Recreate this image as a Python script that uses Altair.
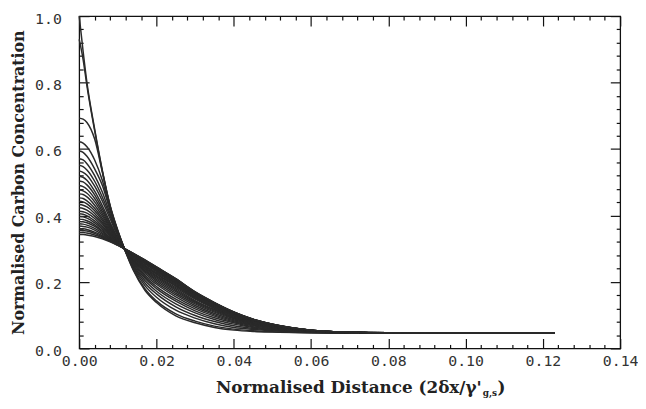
import altair as alt
import pandas as pd

# x positions of the sampled points (normalised distance)
X_HEAD = [0.0, 0.001, 0.002, 0.004, 0.006, 0.008, 0.010, 0.0117]
X_TAIL = [0.014, 0.017, 0.020, 0.025, 0.030, 0.035, 0.040, 0.045, 0.050, 0.060, 0.070, 0.080, 0.123]

# normalised carbon concentration of each profile, near the surface
HEAD = [
    [1.000, 0.895, 0.800, 0.660, 0.535, 0.430, 0.355, 0.300],
    [0.930, 0.870, 0.790, 0.655, 0.532, 0.428, 0.353, 0.300],
    [0.693, 0.690, 0.680, 0.630, 0.530, 0.427, 0.352, 0.300],
    [0.622, 0.618, 0.607, 0.567, 0.505, 0.418, 0.350, 0.300],
    [0.594, 0.590, 0.578, 0.540, 0.490, 0.415, 0.347, 0.300],
    [0.571, 0.567, 0.556, 0.520, 0.470, 0.405, 0.344, 0.300],
    [0.551, 0.547, 0.537, 0.503, 0.455, 0.398, 0.341, 0.300],
    [0.534, 0.530, 0.521, 0.488, 0.443, 0.390, 0.338, 0.300],
    [0.518, 0.515, 0.506, 0.473, 0.429, 0.379, 0.332, 0.300],
    [0.504, 0.501, 0.492, 0.462, 0.420, 0.374, 0.330, 0.300],
    [0.490, 0.487, 0.479, 0.451, 0.412, 0.369, 0.328, 0.300],
    [0.477, 0.474, 0.467, 0.441, 0.405, 0.364, 0.326, 0.300],
    [0.465, 0.463, 0.456, 0.431, 0.398, 0.360, 0.325, 0.300],
    [0.453, 0.451, 0.444, 0.422, 0.391, 0.356, 0.323, 0.300],
    [0.443, 0.441, 0.435, 0.414, 0.385, 0.352, 0.322, 0.300],
    [0.433, 0.431, 0.426, 0.406, 0.379, 0.349, 0.320, 0.300],
    [0.423, 0.421, 0.416, 0.398, 0.374, 0.346, 0.319, 0.300],
    [0.413, 0.411, 0.407, 0.391, 0.368, 0.343, 0.318, 0.300],
    [0.405, 0.404, 0.399, 0.384, 0.363, 0.340, 0.317, 0.300],
    [0.397, 0.396, 0.392, 0.378, 0.359, 0.337, 0.316, 0.300],
    [0.389, 0.388, 0.384, 0.372, 0.354, 0.334, 0.315, 0.300],
    [0.382, 0.381, 0.378, 0.367, 0.351, 0.332, 0.314, 0.300],
    [0.375, 0.374, 0.371, 0.361, 0.347, 0.330, 0.313, 0.300],
    [0.368, 0.367, 0.365, 0.356, 0.343, 0.328, 0.312, 0.300],
    [0.361, 0.360, 0.358, 0.350, 0.339, 0.326, 0.312, 0.300],
    [0.355, 0.354, 0.353, 0.346, 0.336, 0.324, 0.311, 0.300],
    [0.349, 0.349, 0.347, 0.341, 0.333, 0.322, 0.311, 0.300],
    [0.343, 0.343, 0.341, 0.337, 0.330, 0.321, 0.310, 0.300],
]

# the same profiles further into the material
TAIL = [
    [0.235, 0.175, 0.138, 0.098, 0.077, 0.063, 0.055, 0.051, 0.049, 0.047, 0.046, 0.046, 0.046],
    [0.238, 0.180, 0.143, 0.104, 0.082, 0.067, 0.058, 0.053, 0.050, 0.047, 0.046, 0.046, 0.046],
    [0.243, 0.189, 0.154, 0.115, 0.091, 0.074, 0.063, 0.057, 0.053, 0.048, 0.046, 0.046, 0.046],
    [0.247, 0.197, 0.164, 0.125, 0.099, 0.081, 0.068, 0.060, 0.055, 0.049, 0.047, 0.046, 0.046],
    [0.251, 0.204, 0.172, 0.134, 0.107, 0.087, 0.073, 0.063, 0.057, 0.050, 0.047, 0.046, 0.046],
    [0.255, 0.211, 0.180, 0.142, 0.113, 0.092, 0.077, 0.065, 0.058, 0.050, 0.047, 0.046, 0.046],
    [0.258, 0.216, 0.186, 0.148, 0.119, 0.097, 0.080, 0.068, 0.060, 0.051, 0.047, 0.046, 0.046],
    [0.261, 0.221, 0.193, 0.155, 0.124, 0.101, 0.083, 0.070, 0.061, 0.051, 0.048, 0.047, 0.046],
    [0.264, 0.226, 0.198, 0.161, 0.129, 0.105, 0.086, 0.072, 0.062, 0.052, 0.048, 0.047, 0.046],
    [0.266, 0.231, 0.203, 0.166, 0.134, 0.109, 0.089, 0.074, 0.064, 0.052, 0.048, 0.047, 0.046],
    [0.268, 0.234, 0.208, 0.171, 0.138, 0.112, 0.091, 0.075, 0.065, 0.052, 0.048, 0.047, 0.046],
    [0.270, 0.238, 0.212, 0.175, 0.141, 0.115, 0.093, 0.077, 0.066, 0.053, 0.048, 0.047, 0.046],
    [0.272, 0.241, 0.216, 0.179, 0.144, 0.117, 0.095, 0.078, 0.066, 0.053, 0.048, 0.047, 0.046],
    [0.274, 0.244, 0.219, 0.183, 0.148, 0.120, 0.097, 0.079, 0.067, 0.053, 0.048, 0.047, 0.046],
    [0.275, 0.247, 0.223, 0.187, 0.151, 0.122, 0.099, 0.080, 0.068, 0.053, 0.048, 0.047, 0.046],
    [0.277, 0.249, 0.225, 0.189, 0.153, 0.124, 0.100, 0.081, 0.069, 0.054, 0.048, 0.047, 0.046],
    [0.278, 0.251, 0.228, 0.192, 0.155, 0.126, 0.101, 0.082, 0.069, 0.054, 0.049, 0.047, 0.046],
    [0.279, 0.254, 0.231, 0.195, 0.157, 0.128, 0.103, 0.083, 0.070, 0.054, 0.049, 0.047, 0.046],
    [0.280, 0.256, 0.233, 0.197, 0.159, 0.129, 0.104, 0.084, 0.070, 0.054, 0.049, 0.047, 0.046],
    [0.281, 0.257, 0.235, 0.199, 0.161, 0.131, 0.105, 0.085, 0.071, 0.054, 0.049, 0.047, 0.046],
    [0.282, 0.259, 0.237, 0.202, 0.163, 0.132, 0.106, 0.085, 0.071, 0.054, 0.049, 0.047, 0.046],
    [0.283, 0.261, 0.239, 0.203, 0.164, 0.134, 0.107, 0.086, 0.072, 0.055, 0.049, 0.047, 0.046],
    [0.284, 0.262, 0.240, 0.205, 0.166, 0.135, 0.108, 0.086, 0.072, 0.055, 0.049, 0.047, 0.046],
    [0.284, 0.263, 0.242, 0.206, 0.167, 0.136, 0.108, 0.087, 0.072, 0.055, 0.049, 0.047, 0.046],
    [0.285, 0.264, 0.243, 0.208, 0.168, 0.136, 0.109, 0.087, 0.073, 0.055, 0.049, 0.047, 0.046],
    [0.285, 0.265, 0.244, 0.209, 0.169, 0.137, 0.109, 0.088, 0.073, 0.055, 0.049, 0.047, 0.046],
    [0.286, 0.266, 0.245, 0.209, 0.170, 0.138, 0.110, 0.088, 0.073, 0.055, 0.049, 0.047, 0.046],
    [0.286, 0.266, 0.245, 0.210, 0.170, 0.138, 0.110, 0.088, 0.073, 0.055, 0.049, 0.047, 0.046],
]

X_MAJOR = [0.0, 0.02, 0.04, 0.06, 0.08, 0.10, 0.12, 0.14]
X_MINOR = [round(i * 0.004, 3) for i in range(36) if i % 5]
Y_MAJOR = [0.0, 0.2, 0.4, 0.6, 0.8, 1.0]
Y_MINOR = [round(i * 0.04, 2) for i in range(26) if i % 5]

Y_TITLE = "Normalised Carbon Concentration"
X_TITLE_MAIN = "Normalised Distance (2δx/γ'"
X_TITLE_SUB = "g,s"
X_TITLE_END = ")"

rows = []
for i, (h, t) in enumerate(zip(HEAD, TAIL)):
    for x, y in zip(X_HEAD + X_TAIL, h + t):
        rows.append({"x": x, "y": y, "curve": i})
df = pd.DataFrame(rows)

W, H = 547, 336
MONO = "DejaVu Sans Mono"
SERIF = "DejaVu Serif"
INK = "#2a2a2a"

xs = alt.Scale(domain=[0, 0.14], nice=False, zero=False)
ys = alt.Scale(domain=[0, 1], nice=False, zero=False)

lines = alt.Chart(df).mark_line(
    interpolate="monotone", color=INK, strokeWidth=1.5
).encode(
    x=alt.X("x:Q", scale=xs, axis=alt.Axis(
        orient="bottom", values=X_MAJOR, format=".2f", labelFont=MONO,
        labelFontSize=15, labelColor="#333", labelPadding=5, ticks=False,
        domain=False, grid=False, title=None, labelFlush=False, labelOverlap=False)),
    y=alt.Y("y:Q", scale=ys, axis=alt.Axis(
        orient="left", values=Y_MAJOR, format=".1f", labelFont=MONO,
        labelFontSize=15, labelColor="#333", labelPadding=18, labelOffset=2,
        ticks=False, domain=False, grid=False, labelFlush=False, labelOverlap=False,
        title=Y_TITLE, titleFont=SERIF, titleFontSize=16, titleFontWeight="bold",
        titleColor="#222", titleX=-61, titleY=H / 2, titleAngle=270,
        titleAlign="center", titleBaseline="middle")),
    detail="curve:N",
)

dummy = pd.DataFrame({"x": [0.0], "y": [0.0]})


def tick_layer(xvals, yvals, xorient, yorient, size):
    return alt.Chart(dummy).mark_point(opacity=0).encode(
        x=alt.X("x:Q", scale=xs, axis=alt.Axis(
            orient=xorient, offset=-H, values=xvals, labels=False, domain=False,
            grid=False, ticks=True, tickSize=size, tickColor="#111",
            tickWidth=1.2, title=None)),
        y=alt.Y("y:Q", scale=ys, axis=alt.Axis(
            orient=yorient, offset=-W, values=yvals, labels=False, domain=False,
            grid=False, ticks=True, tickSize=size, tickColor="#111",
            tickWidth=1.2, title=None)),
    )


t1 = tick_layer(X_MAJOR, Y_MAJOR, "top", "right", 10)
t2 = tick_layer(X_MINOR, Y_MINOR, "top", "right", 4)
t3 = tick_layer(X_MAJOR, Y_MAJOR, "bottom", "left", 10)
t4 = tick_layer(X_MINOR, Y_MINOR, "bottom", "left", 4)

title_main = alt.Chart(pd.DataFrame({"t": [X_TITLE_MAIN]})).mark_text(
    align="right", baseline="alphabetic", font=SERIF, fontSize=17,
    fontWeight="bold", color="#222"
).encode(text="t:N", x=alt.value(407), y=alt.value(381))

title_sub = alt.Chart(pd.DataFrame({"t": [X_TITLE_SUB]})).mark_text(
    align="left", baseline="alphabetic", font=SERIF, fontSize=9,
    fontWeight="bold", color="#222"
).encode(text="t:N", x=alt.value(408), y=alt.value(384))

title_end = alt.Chart(pd.DataFrame({"t": [X_TITLE_END]})).mark_text(
    align="left", baseline="alphabetic", font=SERIF, fontSize=17,
    fontWeight="bold", color="#222"
).encode(text="t:N", x=alt.value(423), y=alt.value(381))

chart = alt.layer(
    lines, t1, t2, t3, t4, title_main, title_sub, title_end
).resolve_axis(
    x="independent", y="independent"
).properties(
    width=W, height=H,
    autosize=alt.AutoSizeParams(type="none"),
    padding={"left": 72, "top": 6, "right": 18, "bottom": 51},
).configure_view(
    stroke="#111", strokeWidth=1.3
).configure_axis(grid=False)

chart.save("out.html", embed_options={"renderer": "svg", "actions": False})
